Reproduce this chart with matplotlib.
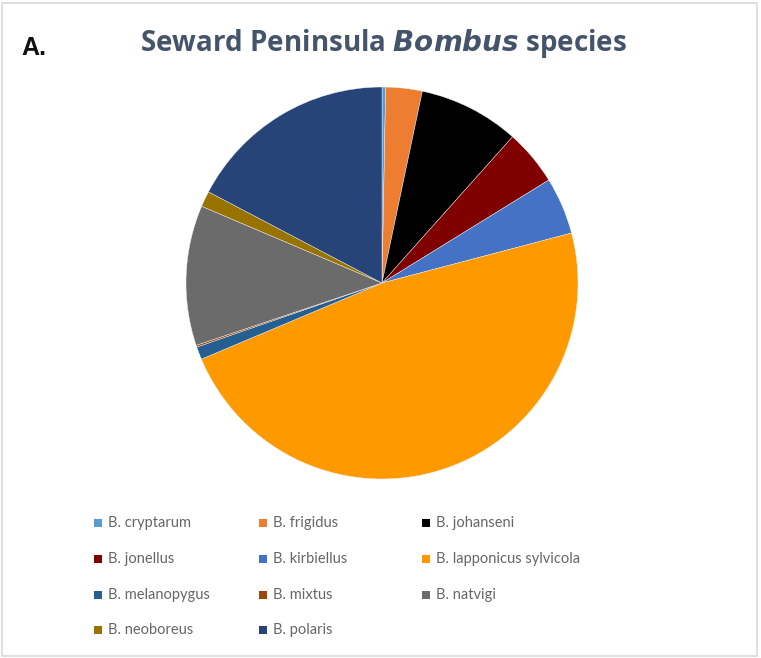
import matplotlib.pyplot as plt
from matplotlib.patches import Rectangle

# share of each species in the Seward Peninsula samples (%)
species = ["B. cryptarum", "B. frigidus", "B. johanseni", "B. jonellus",
           "B. kirbiellus", "B. lapponicus sylvicola", "B. melanopygus",
           "B. mixtus", "B. natvigi", "B. neoboreus", "B. polaris"]
shares = [0.3, 3.0, 8.3, 4.6, 4.7, 47.75, 1.05, 0.15, 11.55, 1.3, 17.3]
colors = ["#5B9BD5", "#ED7D31", "#000000", "#800000", "#4472C4", "#FF9900",
          "#255E91", "#9E480E", "#6B6B6B", "#997300", "#264478"]

W, H = 761, 658
fig = plt.figure(figsize=(W / 100, H / 100), dpi=100)

# light frame round the chart area
fig.patches.append(Rectangle((2 / W, 2 / H), 755 / W, 653 / H,
                             transform=fig.transFigure, fill=False,
                             edgecolor="#D9D9D9", linewidth=1.2))

# pie: centre (382, 283) px, radius 196 px
r = 196
ax = fig.add_axes([(382 - r) / W, 1 - (283 + r) / H, 2 * r / W, 2 * r / H])
ax.pie(shares, colors=colors, startangle=90, counterclock=False,
       radius=1, wedgeprops=dict(linewidth=0.3, edgecolor="#F2F2F2"))
ax.set_xlim(-1, 1)
ax.set_ylim(-1, 1)
ax.set_aspect("equal")
ax.axis("off")

fig.text(383 / W, 1 - 43 / H, "Seward Peninsula $\\mathbfit{Bombus}$ species",
         ha="center", va="center", fontsize=20, fontweight="bold",
         color="#44546A", family="Open Sans")
fig.text(21 / W, 1 - 48 / H, "A.", ha="left", va="center", fontsize=18,
         fontweight="bold", color="#111111", family="Liberation Sans")

# legend, three columns laid out row by row
col_x = [94, 259, 422]
row_y = [523, 559, 595, 630]
for i, (name, c) in enumerate(zip(species, colors)):
    x = col_x[i % 3]
    y = row_y[i // 3]
    fig.patches.append(Rectangle((x / W, 1 - (y + 4) / H), 8 / W, 8 / H,
                                 transform=fig.transFigure, facecolor=c,
                                 edgecolor="none"))
    fig.text((x + 14) / W, 1 - y / H, name, ha="left", va="center",
             fontsize=10.5, color="#666666", family="Lato")

fig.savefig("out.png", dpi=100, facecolor="white")
